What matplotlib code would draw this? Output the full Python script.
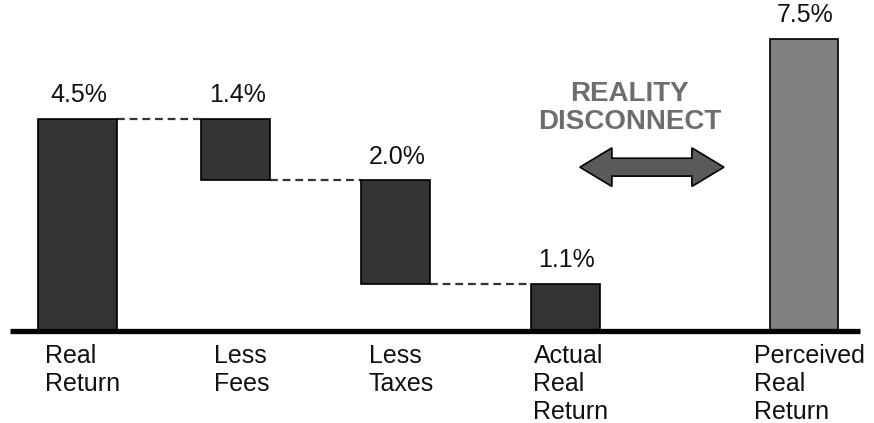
import numpy as np
import matplotlib.pyplot as plt
from matplotlib.patches import Polygon

plt.rcParams['font.family'] = ['Liberation Sans', 'DejaVu Sans']

# bars as drawn (the graphic is not to scale), labels as printed
categories = ['Real\nReturn', 'Less\nFees', 'Less\nTaxes', 'Actual\nReal\nReturn', 'Perceived\nReal\nReturn']
heights = [4.5, 1.3, 2.2, 1.0, 6.2]
value_labels = ['4.5%', '1.4%', '2.0%', '1.1%', '7.5%']
kinds = ['total', 'down', 'down', 'total', 'perceived']
positions = [0, 0.99, 1.99, 3.05, 4.54]
widths = [0.49, 0.43, 0.43, 0.43, 0.43]

# waterfall bottoms
bottoms = []
level = 0
for h, k in zip(heights, kinds):
    if k == 'down':
        level -= h
        bottoms.append(level)
    elif k == 'total':
        bottoms.append(0)
        level = h
    else:
        bottoms.append(0)
tops = [b + h for b, h in zip(bottoms, heights)]

fig = plt.figure(figsize=(8.74, 4.23), dpi=100)
ax = fig.add_axes([0, 0, 1, 1])
ax.set_xlim(-0.484, 4.978)
ax.set_ylim(-1.953, 7.03)
ax.axis('off')

colors = ['#333333' if k != 'perceived' else '#808080' for k in kinds]
ax.bar(positions, heights, width=widths, bottom=bottoms, color=colors,
       edgecolor='black', linewidth=1.2, zorder=3)

# dashed connectors
for i in range(3):
    lvl = tops[i] if kinds[i] == 'total' else bottoms[i]
    x0 = positions[i] + widths[i] / 2
    x1 = positions[i + 1] - widths[i + 1] / 2
    ax.plot([x0, x1], [lvl, lvl], color='#333333', lw=1.6, ls=(0, (3.5, 2.2)), zorder=2)

# baseline
ax.plot([-0.42, 4.89], [0, 0], color='black', lw=3.8, solid_capstyle='butt', zorder=4)

for x, t, lab in zip(positions, tops, value_labels):
    ax.annotate(lab, (x, t), xytext=(1, 12), textcoords='offset points',
                ha='center', va='baseline', fontsize=18, color='#111111')

for x, cat in zip(positions, categories):
    ax.annotate(cat, (x, 0), xytext=(4, -9), textcoords='offset points',
                ha='center', va='top', multialignment='left', fontsize=18,
                linespacing=1.22, color='#111111')

ax.text(3.45, 4.73, 'REALITY\nDISCONNECT', ha='center', va='center',
        fontsize=20, fontweight='bold', color='#6e6e6e', linespacing=1.1)

# double-headed block arrow
cx, cy = 3.59, 3.48
half_len, head_len = 0.45, 0.2
head_h, shaft_h = 0.41, 0.19
pts = [(cx - half_len, cy),
       (cx - half_len + head_len, cy + head_h),
       (cx - half_len + head_len, cy + shaft_h),
       (cx + half_len - head_len, cy + shaft_h),
       (cx + half_len - head_len, cy + head_h),
       (cx + half_len, cy),
       (cx + half_len - head_len, cy - head_h),
       (cx + half_len - head_len, cy - shaft_h),
       (cx - half_len + head_len, cy - shaft_h),
       (cx - half_len + head_len, cy - head_h)]
ax.add_patch(Polygon(pts, closed=True, facecolor='#5a5a5a', edgecolor='black', lw=1.2))

fig.savefig('out.png', dpi=100)
